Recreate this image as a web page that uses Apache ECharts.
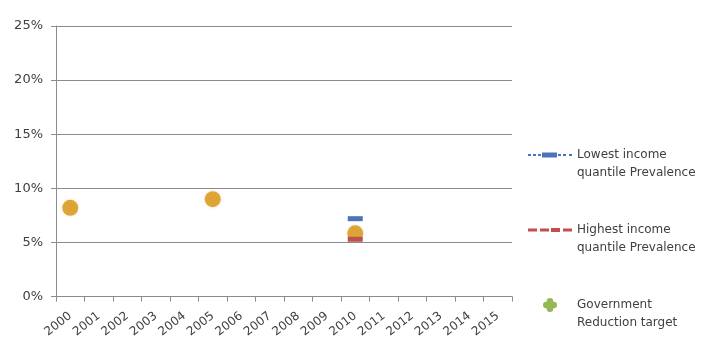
<!DOCTYPE html>
<html><head><meta charset="utf-8">
<script src="https://cdn.jsdelivr.net/npm/echarts@6/dist/echarts.min.js"></script>
<style>html,body{margin:0;padding:0;background:#fff}#c{width:709px;height:340px}</style>
</head><body><div id="c"></div>
<script>
var years = ['2000','2001','2002','2003','2004','2005','2006','2007','2008','2009','2010','2011','2012','2013','2014','2015'];
var lowestIncome = [null,null,null,null,null,null,null,null,null,null,7.2,null,null,null,null,null];
var highestIncome = [null,null,null,null,null,null,null,null,null,null,5.3,null,null,null,null,null];
var overallPrevalence = [8.2,null,null,null,null,9.0,null,null,null,null,5.85,null,null,null,null,null];
var govTarget = [null,null,null,null,null,null,null,null,null,null,null,null,null,null,null,null];

var clover = 'path://M3.5,3.5 L3.5,3 A3.5,3.5 0 0 1 10.5,3 L10.5,3.5 L11,3.5 A3.5,3.5 0 0 1 11,10.5 L10.5,10.5 L10.5,11 A3.5,3.5 0 0 1 3.5,11 L3.5,10.5 L3,10.5 A3.5,3.5 0 0 1 3,3.5 Z';
var blueIcon = 'path://M0,2 h3 v2 h-3 Z M5,2 h3 v2 h-3 Z M10,2 h3 v2 h-3 Z M14,0.5 h15 v5 h-15 Z M30,2 h3 v2 h-3 Z M35,2 h3 v2 h-3 Z M41,2 h3 v2 h-3 Z';
var redIcon = 'path://M0,1.5 h9 v3 h-9 Z M12,1.5 h9 v3 h-9 Z M23,1 h9 v4 h-9 Z M35,1.5 h9 v3 h-9 Z';
var legendNames = {
  'Lowest income quantile Prevalence': '\nLowest income\nquantile Prevalence',
  'Highest income quantile Prevalence': '\nHighest income\nquantile Prevalence',
  'Government Reduction target': '\nGovernment\nReduction target'
};
var font = '"DejaVu Sans", sans-serif';
var chart = echarts.init(document.getElementById('c'));
chart.setOption({
  animation: false,
  textStyle: {fontFamily: font},
  grid: {left: 56, right: 197, top: 26, bottom: 43},
  xAxis: {
    type: 'category', data: years, boundaryGap: true,
    axisLine: {lineStyle: {color: '#8c8c8c'}},
    axisTick: {show: true, alignWithLabel: false, length: 5, lineStyle: {color: '#8c8c8c'}},
    axisLabel: {rotate: 38, color: '#404040', fontSize: 12, fontFamily: font, margin: 18}
  },
  yAxis: {
    type: 'value', min: 0, max: 25, interval: 5,
    axisLine: {show: true, lineStyle: {color: '#8c8c8c'}},
    axisTick: {show: true, length: 5, lineStyle: {color: '#8c8c8c'}},
    splitLine: {lineStyle: {color: '#8c8c8c'}},
    axisLabel: {color: '#404040', fontSize: 13, fontFamily: font, margin: 13,
      formatter: function(v){ return v + '%'; }}
  },
  legend: {
    orient: 'vertical', left: 528, top: 128,
    data: [
      {name: 'Lowest income quantile Prevalence', icon: blueIcon},
      {name: 'Highest income quantile Prevalence', icon: redIcon},
      {name: 'Government Reduction target', icon: clover, itemStyle: {color: '#7aa62b'}}
    ],
    itemWidth: 44, itemHeight: 14, itemGap: 21, padding: 0,
    formatter: function(n){ return legendNames[n] || n; },
    textStyle: {color: '#404040', fontSize: 12, lineHeight: 18, fontFamily: font}
  },
  series: [
    {name: 'Lowest income quantile Prevalence', type: 'line', data: lowestIncome, z: 4,
      symbol: 'rect', symbolSize: [15,5], color: '#4f72b8',
      lineStyle: {type: 'dashed', width: 2, color: '#4f72b8'}},
    {name: 'Highest income quantile Prevalence', type: 'line', data: highestIncome, z: 4,
      symbol: 'rect', symbolSize: [15,5], color: '#c0504d',
      lineStyle: {type: 'dashed', width: 3, color: '#c0504d'}},
    {name: 'Prevalence', type: 'scatter', data: overallPrevalence, z: 3,
      symbol: 'circle', symbolSize: 16,
      itemStyle: {color: '#d6960c', shadowColor: 'rgba(220,120,60,0.3)', shadowBlur: 3}},
    {name: 'Government Reduction target', type: 'scatter', data: govTarget,
      symbol: clover, symbolSize: 12, itemStyle: {color: '#7aa62b'}}
  ]
});
</script></body></html>
